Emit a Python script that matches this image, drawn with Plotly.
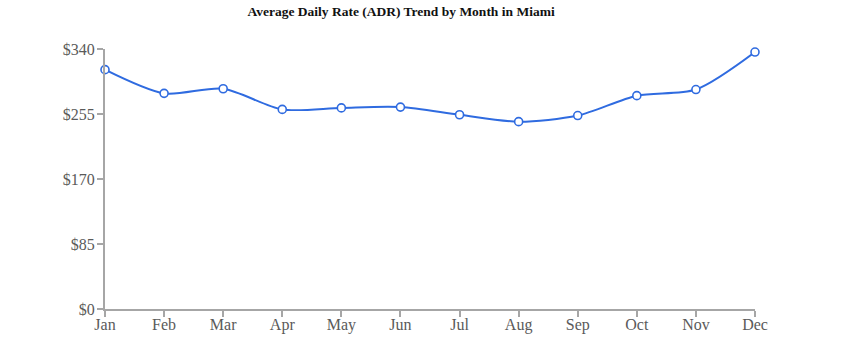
import plotly.graph_objects as go

months = ["Jan", "Feb", "Mar", "Apr", "May", "Jun", "Jul", "Aug", "Sep", "Oct", "Nov", "Dec"]
adr = [313, 282, 288, 261, 263, 264, 254, 245, 253, 279, 287, 336]
y_ticks = [0, 85, 170, 255, 340]
y_tick_labels = ["$0", "$85", "$170", "$255", "$340"]

x_idx = list(range(len(months)))

fig = go.Figure()
fig.add_trace(go.Scatter(
    x=x_idx, y=adr, mode="lines+markers",
    line=dict(color="#2f6be0", width=2, shape="spline", smoothing=0.8),
    marker=dict(size=8, color="white", line=dict(color="#2f6be0", width=1.6)),
    cliponaxis=False, hoverinfo="skip",
))

axis_color = "#a6a6a6"
tick_font = dict(family="Liberation Serif, DejaVu Serif, serif", size=16, color="#5a5a5a")

fig.update_layout(
    width=856, height=349,
    margin=dict(l=105, r=101, t=49, b=40),
    paper_bgcolor="white", plot_bgcolor="white",
    showlegend=False,
    title=dict(
        text="<b>Average Daily Rate (ADR) Trend by Month in Miami</b>",
        xref="container", x=0.4685, xanchor="center", y=0.968, yanchor="middle",
        font=dict(family="Liberation Serif, serif", size=13.5, color="#111"),
    ),
    xaxis=dict(
        range=[0, len(months) - 1], tickmode="array", tickvals=x_idx, ticktext=months,
        showgrid=False, zeroline=False, showline=True, linecolor=axis_color, linewidth=2,
        ticks="outside", ticklen=6, tickwidth=1.5, tickcolor=axis_color,
        tickfont=tick_font, ticklabelstandoff=-6, fixedrange=True,
    ),
    yaxis=dict(
        range=[0, 340], tickmode="array", tickvals=y_ticks, ticktext=y_tick_labels,
        showgrid=False, zeroline=False, showline=True, linecolor=axis_color, linewidth=2,
        ticks="outside", ticklen=6, tickwidth=1.5, tickcolor=axis_color,
        tickfont=tick_font, ticklabelstandoff=-1, fixedrange=True,
    ),
)

fig.write_html("out.html")
